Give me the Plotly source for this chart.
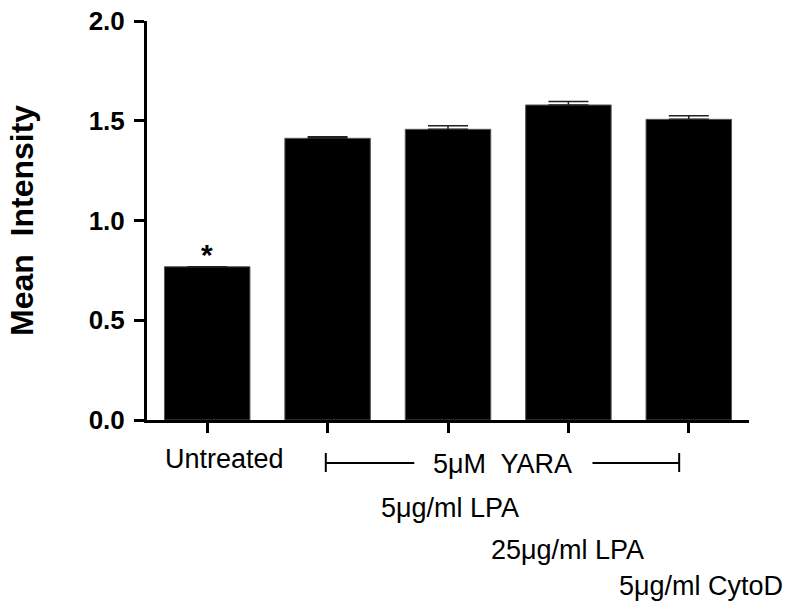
import plotly.graph_objects as go

categories = ["Untreated", "YARA+5LPA", "YARA+25LPA", "YARA+CytoD", "YARA"]
means = [0.768, 1.412, 1.457, 1.579, 1.507]
errors = [0.0, 0.008, 0.018, 0.017, 0.018]
y_ticks = [0.0, 0.5, 1.0, 1.5, 2.0]
y_title = "Mean  Intensity"
group_labels = ["Untreated", "5\u03bcM  YARA", "5\u03bcg/ml LPA", "25\u03bcg/ml LPA", "5\u03bcg/ml CytoD"]

FONT = "Arial, Liberation Sans, sans-serif"
W, H = 793, 616
L, T = 147, 21
R = W - 749
B = H - 420
PW, PH = W - L - R, H - T - B

def py(p):  # reference pixel y -> paper
    return (H - B - p) / PH

def px(p):  # reference pixel x -> paper
    return (p - L) / PW

xs = list(range(len(categories)))

fig = go.Figure()
fig.add_trace(go.Bar(
    x=xs, y=means, width=0.71,
    marker=dict(color="black", line=dict(color="#555555", width=1)),
    error_y=dict(type="data", array=errors, arrayminus=[0]*len(errors), symmetric=False,
                 color="#222222", thickness=1.5, width=20, visible=True),
))

ann = []
def txt(x, y, s, size=27):
    ann.append(dict(x=x, y=y, xref="x", yref="paper", text=s,
                    showarrow=False, font=dict(family=FONT, size=size, color="black"),
                    xanchor="center", yanchor="middle"))

txt(0.14, py(459), group_labels[0])
txt(2.45, py(464), group_labels[1])
txt(2.02, py(508), group_labels[2])
txt(2.99, py(550), group_labels[3])
txt(4.10, py(586), group_labels[4])
# significance asterisk over the untreated bar
ann.append(dict(x=0, y=means[0], xref="x", yref="y", text="<b>*</b>", showarrow=False,
                font=dict(family=FONT, size=30, color="black"), xanchor="center", yanchor="bottom",
                yshift=-6))
# y-axis title
ann.append(dict(x=px(22), y=py(221), xref="paper", yref="paper", text=f"<b>{y_title}</b>",
                textangle=-90, showarrow=False, xanchor="center", yanchor="middle",
                font=dict(family=FONT, size=32, color="black")))

shapes = []
lw = 2
yl = py(463)
for (a, b) in [(0.985, 1.72), (3.20, 3.92)]:
    shapes.append(dict(type="line", xref="x", yref="paper", x0=a, x1=b, y0=yl, y1=yl,
                       line=dict(color="black", width=lw)))
for a in [0.985, 3.92]:
    shapes.append(dict(type="line", xref="x", yref="paper", x0=a, x1=a, y0=py(453), y1=py(472),
                       line=dict(color="black", width=lw)))

fig.update_layout(
    width=W, height=H, margin=dict(l=L, r=R, t=T, b=B, autoexpand=False),
    paper_bgcolor="white", plot_bgcolor="white",
    showlegend=False, annotations=ann, shapes=shapes,
    font=dict(family=FONT, color="black"),
)
fig.update_xaxes(range=[-0.5, 4.5], tickvals=xs, showticklabels=False, ticks="outside",
                 ticklen=10, tickwidth=3, tickcolor="black", showline=True, linewidth=3,
                 linecolor="black", showgrid=False, zeroline=False, automargin=False)
fig.update_yaxes(range=[0, 2.0], tickvals=y_ticks, ticktext=[f"<b>{v:.1f}</b>" for v in y_ticks],
                 ticks="outside", ticklen=10, tickwidth=3, tickcolor="black",
                 showline=True, linewidth=3, linecolor="black", showgrid=False, zeroline=False,
                 tickfont=dict(family=FONT, size=26, color="black"), automargin=False,
                 ticklabeloverflow="allow", ticklabelstandoff=4)

fig.write_html("out.html", config={"displayModeBar": False},
               post_script="document.body.style.margin='0';document.body.style.overflow='hidden';")
